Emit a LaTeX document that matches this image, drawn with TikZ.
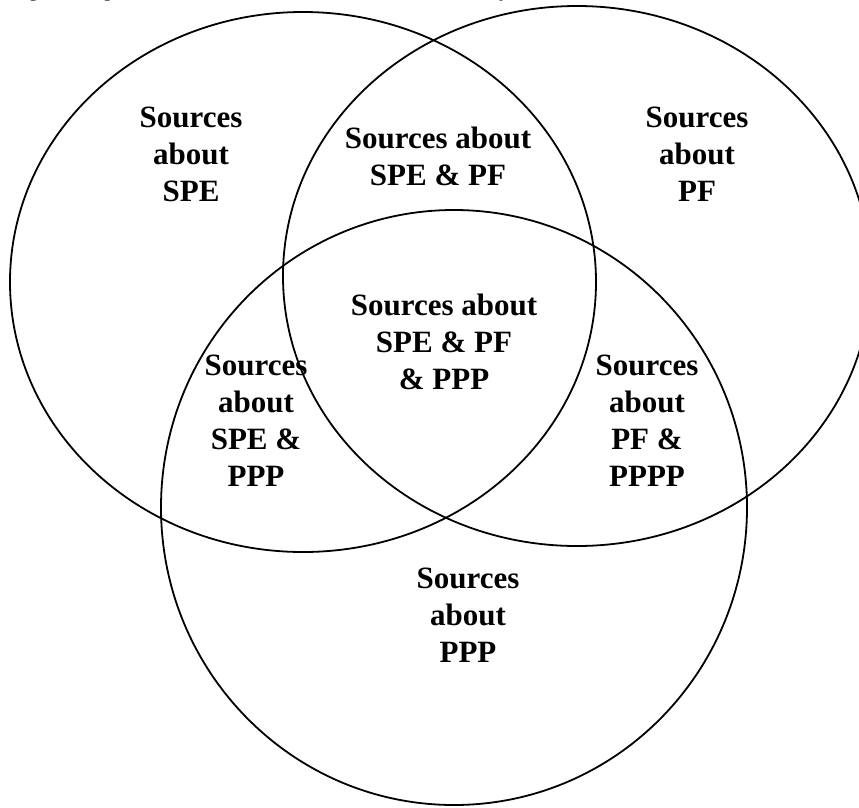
\documentclass[tikz,border=0pt]{standalone}
\usepackage{fontspec}
\setmainfont{Liberation Serif}
\begin{document}
\begin{tikzpicture}[x=1pt,y=-1pt,
  venn/.style={draw, line width=1.8pt},
  lbl/.style={font=\fontsize{31}{37}\selectfont\bfseries, align=center, inner sep=0pt},
  captxt/.style={font=\fontsize{21.5}{24}\selectfont, inner sep=0pt, anchor=base west}]
\useasboundingbox (0,0) rectangle (859,807);
\begin{scope}
\clip (0,0) rectangle (859,807);
\node[captxt] (cap) at (10,-3.5) {Figure 1 represents the sources used in the literature analysis.};
\draw[venn] (303,282) ellipse [x radius=293pt, y radius=270pt];
\draw[venn] (577,276) ellipse [x radius=294pt, y radius=270pt];
\draw[venn] (454,507.5) ellipse [x radius=293pt, y radius=297.5pt];
\end{scope}
\node[lbl] (spe) at (191,154) {Sources\\about\\SPE};
\node[lbl] (spepf) at (438,156.5) {Sources about\\SPE \& PF};
\node[lbl] (pf) at (697,154) {Sources\\about\\PF};
\node[lbl] (all) at (444,342) {Sources about\\SPE \& PF\\\& PPP};
\node[lbl] (speppp) at (256,421) {Sources\\about\\SPE \&\\PPP};
\node[lbl] (pfppp) at (647,421) {Sources\\about\\PF \&\\PPPP};
\node[lbl] (ppp) at (468,615) {Sources\\about\\PPP};
\end{tikzpicture}
\end{document}
